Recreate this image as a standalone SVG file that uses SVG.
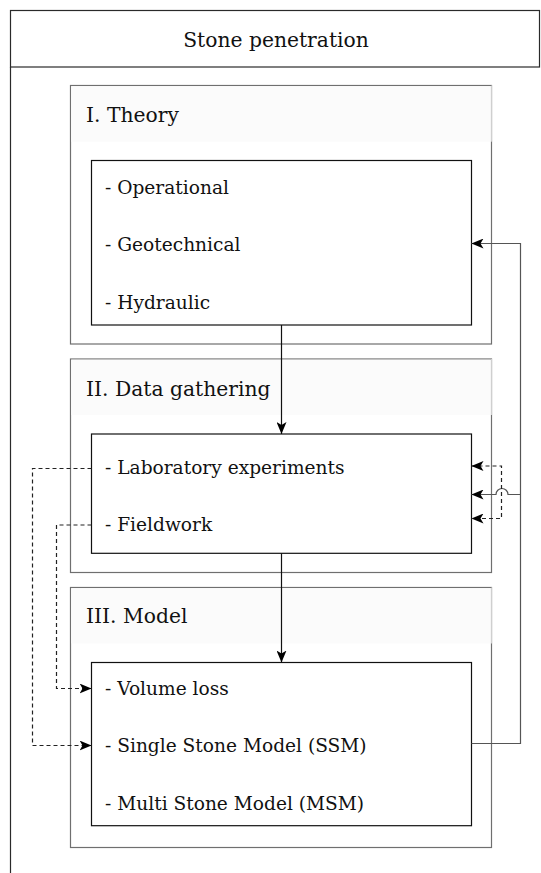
<svg xmlns="http://www.w3.org/2000/svg" width="541" height="873" viewBox="0 0 541 873">
<style>
.frame{fill:none;stroke:#2a2a2a;stroke-width:1.2}
.grp{fill:#fff;stroke:#6f6f6f;stroke-width:1.2}
.band{fill:#fbfbfb;stroke:none}
.bandedge{stroke:#cfcfcf;stroke-width:1.2}
.inner{fill:#fff;stroke:#111;stroke-width:1.2}
text{font-family:'DejaVu Serif','Liberation Serif',serif;fill:#111}
.title{font-size:20.3px}
.item{font-size:18.6px}
.solid{fill:none;stroke:#111;stroke-width:1.2}
.gray{fill:none;stroke:#555;stroke-width:1.2}
.dash{fill:none;stroke:#222;stroke-width:1.2;stroke-dasharray:4 3}
</style>
<defs>
<marker id="arr" viewBox="0 0 12 10" refX="12" refY="5" markerWidth="12" markerHeight="10" orient="auto-start-reverse" markerUnits="userSpaceOnUse">
<path d="M0,0 L12,5 L0,10 L3,5 z" fill="#000"/>
</marker>
</defs>

<g id="pool">
<rect class="frame" x="10.5" y="10.5" width="529" height="56.5"/>
<line class="frame" x1="10.5" y1="67" x2="10.5" y2="873"/>
<text class="title" x="276" y="47" text-anchor="middle">Stone penetration</text>
</g>

<g id="theory">
<rect class="grp" x="70.5" y="85.5" width="421" height="258.5"/>
<rect class="band" x="71.2" y="86.2" width="419.6" height="55.5"/>
<line class="bandedge" x1="491.5" y1="85.5" x2="491.5" y2="141.7"/>
<text class="title" x="86" y="122">I. Theory</text>
</g>
<g id="theory-items">
<rect class="inner" x="91.5" y="160.5" width="380" height="164.5"/>
<text class="item" x="105" y="193.5">- Operational</text>
<text class="item" x="105" y="251">- Geotechnical</text>
<text class="item" x="105" y="308.5">- Hydraulic</text>
</g>

<g id="data">
<rect class="grp" x="70.5" y="359" width="421" height="213.5"/>
<rect class="band" x="71.2" y="359.7" width="419.6" height="55.3"/>
<line class="bandedge" x1="491.5" y1="359" x2="491.5" y2="415"/>
<text class="title" x="86" y="396">II. Data gathering</text>
</g>
<g id="data-items">
<rect class="inner" x="91.5" y="434" width="380" height="119.3"/>
<text class="item" x="105" y="473.5">- Laboratory experiments</text>
<text class="item" x="105" y="530.5">- Fieldwork</text>
</g>

<g id="model">
<rect class="grp" x="70.5" y="587.5" width="421" height="260"/>
<rect class="band" x="71.2" y="588.2" width="419.6" height="55.3"/>
<line class="bandedge" x1="491.5" y1="587.5" x2="491.5" y2="643.5"/>
<text class="title" x="86" y="623">III. Model</text>
</g>
<g id="model-items">
<rect class="inner" x="91.5" y="662.5" width="380" height="163.2"/>
<text class="item" x="105" y="694.5">- Volume loss</text>
<text class="item" x="105" y="752">- Single Stone Model (SSM)</text>
<text class="item" x="105" y="809.5">- Multi Stone Model (MSM)</text>
</g>

<g id="connectors">
<path class="solid" d="M281.5,325 V434" marker-end="url(#arr)"/>
<path class="solid" d="M281.5,553.3 V662.5" marker-end="url(#arr)"/>
<path class="gray" d="M471.5,743.5 H520.5 V243.5 H471.5" marker-end="url(#arr)"/>
<path class="gray" d="M520.5,494.5 H508 A6,6 0 0 0 496,494.5 H471.5" marker-end="url(#arr)"/>
<path class="dash" d="M471.5,466 H501.5 V518.5 H471.5" marker-start="url(#arr)" marker-end="url(#arr)"/>
<path class="dash" d="M91.5,468.5 H32.5 V745.5 H91.5" marker-end="url(#arr)"/>
<path class="dash" d="M91.5,525 H56.5 V688.5 H91.5" marker-end="url(#arr)"/>
</g>
</svg>
